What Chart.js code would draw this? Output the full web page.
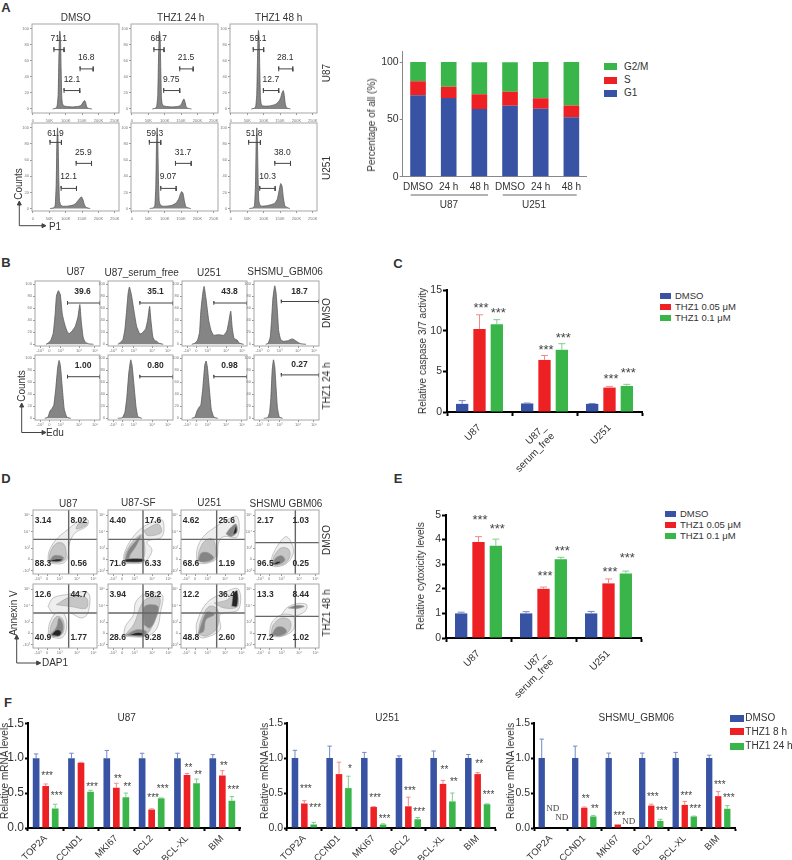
<!DOCTYPE html>
<html>
<head>
<meta charset="utf-8">
<title>THZ1 figure</title>
<script src="https://cdn.jsdelivr.net/npm/chart.js@4"></script>
<style>
    body { margin: 0; background: #fff; }
    #page { position: relative; width: 792px; height: 860px; overflow: hidden; font-family: "Liberation Sans", Arial, sans-serif; color: #333; }
    #page canvas { position: absolute; }
    #page svg { position: absolute; left: 0; top: 0; }
    .t { position: absolute; white-space: nowrap; line-height: 1; }
    .sw { position: absolute; }
</style>
</head>
<body>
<div id="page">
    <svg width="792" height="860" fill="none" stroke="#444" stroke-width="1">
        <!-- axis arrows next to the flow panels -->
        <path d="M19.3 205V225.7H43"/><path d="M19.3 201l-2 4h4zM46 225.7l-4 -2v4z" fill="#444"/>
        <path d="M21.7 407V432.5H43"/><path d="M21.7 403l-2 4h4zM46 432.5l-4 -2v4z" fill="#444"/>
        <path d="M16.7 639V663H37"/><path d="M16.7 635l-2 4h4zM40.7 663l-4 -2v4z" fill="#444"/>
        <!-- group lines under the stacked bars -->
        <path d="M410.7 195H488M502.7 195H576.7" stroke="#666"/>
    </svg>
</div>
<script>
const BLUE = '#3953a4', RED = '#ed2024', GREEN = '#39b54a';
const BLUE_ERR = '#7488c6', RED_ERR = '#f28a8a', GREEN_ERR = '#7fcf8d';

// ---- panel A, stacked bars
const cycleLabels = ['DMSO', '24 h', '48 h', 'DMSO', '24 h', '48 h'];
const cycleG1 = [71.1, 68.7, 59.1, 61.9, 59.3, 51.8];
const cycleS = [12.1, 9.75, 12.7, 12.1, 9.07, 10.3];
const cycleG2M = [16.8, 21.5, 28.1, 25.9, 31.7, 38.0];
const cycleTicks = [0, 50, 100];

// ---- panel A, histograms: x (K), y (%)
const histAU87 = [
    [60,0,70,1,74,4,77,18,79,60,81,90,82,97,84,90,86,50,88,14,90,7,94,4,105,3,120,2.5,135,3,145,4,150,6,154,9,158,10.5,161,8,164,3,168,1,180,0],
    [62,0,72,1,76,4,79,18,81,60,83,90,84,97,86,90,88,50,90,14,92,7,96,4,107,3,122,2.5,137,3,147,4,152,7,156,11,159,12.5,162,9,165,3.5,170,1,182,0],
    [62,0,72,1,76,4,79,20,81,60,83,92,84,98,86,90,88,50,90,14,92,7,96,4,107,3.5,122,4,137,6,147,10,152,14,156,20,160,23,163,17,166,6,170,1.5,182,0],
];
const histAU251 = [
    [52,0,64,1,68,4,71,30,73,80,75,100,77,80,79,35,81,10,84,5,90,3,105,3,120,4,130,6,138,10,144,13,148,14.5,152,12,157,5,162,1.5,175,0],
    [54,0,66,1,70,4,73,30,75,80,77,100,79,80,81,35,83,10,86,5,92,3,107,3,122,4,135,7,143,12,148,18,152,21,156,19,160,10,165,2,180,0],
    [56,0,68,1,72,4,75,30,77,80,79,100,81,80,83,35,85,10,88,5,94,3,109,3.5,124,5,135,7,142,12,147,22,152,31,156,28,160,14,165,3,180,0],
];
// gates: x0, x1, y
const gatesAU87 = [
    [[64,95,74],[95,143,23],[144,184,50]],
    [[67,98,74],[97,146,23],[146,187,50]],
    [[68,100,74],[99,146,23],[146,189,50]],
];
const gatesAU251 = [
    [[52,87,82],[86,133,25],[132,179,56]],
    [[53,88,82],[88,135,25],[133,181,56]],
    [[54,90,82],[88,135,25],[134,182,56]],
];
const notesAU87 = [
    [[79,87.5,'71.1'],[163,64,'16.8'],[119,36.5,'12.1']],
    [[82,87.5,'68.7'],[165,63.5,'21.5'],[120,37,'9.75']],
    [[83,87.5,'59.1'],[166,63.5,'28.1'],[122,36.5,'12.7']],
];
const notesAU251 = [
    [[69,93,'61.9'],[154,69.5,'25.9'],[109,39,'12.1']],
    [[70,93,'59.3'],[156,69.5,'31.7'],[110,39,'9.07']],
    [[71,93,'51.8'],[157,69.5,'38.0'],[112,39,'10.3']],
];
const flowAXTicks = [0, 50, 100, 150, 200, 250];
const flowAXLabels = ['0', '50K', '100K', '150K', '200K', '250K'];
const flowYTicks = [0, 20, 40, 60, 80, 100];

// ---- panel B, histograms: x (axis position), y (%)
const histBDmso = [
    [17,0,20,2,24,6,28,18,31,50,33,80,36,89,39,82,42,50,46,32,50,20,53,18,57,22,62,30,66,45,69,66,71,40,74,12,77,4,82,1,90,0],
    [15,0,19,3,23,8,26,25,29,60,31,85,33,95,36,82,40,55,44,30,49,17,53,19,58,26,61,40,64,63,66,40,69,12,72,6,75,5,78,2,85,0],
    [15,0,20,2,24,7,27,20,29,55,32,85,34,96,37,75,41,40,45,22,49,15,56,16,64,15,69,22,72,38,75,55,77,30,80,10,85,7,88,2,95,0],
    [18,0,22,2,25,12,27,40,29,75,31,92,32,97,34,85,36,55,38,22,41,8,45,5,52,6,59,9,64,6,68,3,72,1,80,0],
];
const histBThz = [
    [15,0,20,2,23,12,26,16,29,22,32,50,35,85,37,96,39,88,42,50,45,15,49,2,55,0],
    [15,0,22,1,26,10,29,35,32,75,35,97,37,88,40,55,43,20,46,3,52,0],
    [15,0,20,2,23,12,26,18,29,22,32,50,35,88,37,95,39,85,42,50,45,15,49,2,55,0],
    [15,0,21,1,24,10,26,35,28,80,30,97,32,85,34,50,36,18,39,2,44,0],
];
const gatesBDmso = [[50,100,68.5],[49,100,68.5],[49,100,68.5],[42,100,71]];
const gatesBThz = [[50,100,69],[49,100,69],[49,100,69],[42,100,72]];
const notesBDmso = [[73,87,'39.6'],[73,87,'35.1'],[73,87,'43.8'],[70,87,'18.7']];
const notesBThz = [[74,87,'1.00'],[73,87,'0.80'],[73,87,'0.98'],[70,89,'0.27']];
const logXTicks = [7.7, 22, 39.5, 68, 92.3];
const logXLabels = ['-10³', '0', '10³', '10⁴', '10⁵'];

// ---- panel D, contours: level, then x, y pairs (0 to 192 across the panel)
const contourShades = ['#eeeeee', '#c6c6c6', '#858585', '#262626'];
const contoursDmso = [
    [[0,[45,32,48,67,70,104,105,134,140,160,165,162,162,144,125,122,108,87,105,52,90,32]],
     [1,[48,37,52,65,70,92,92,90,100,60,95,42,75,35]],
     [1,[135,150,162,155,160,146,130,135]],
     [2,[50,40,62,55,82,55,92,48,85,38,60,36]],
     [3,[52,42,70,45,88,44,80,38,58,38]]],
    [[0,[47,32,49,62,72,107,107,142,147,160,165,160,162,112,117,97,132,72,117,42,97,32]],
     [1,[50,36,52,60,72,95,100,118,108,100,110,60,100,38]],
     [1,[107,130,150,150,160,125,120,115]],
     [2,[52,45,60,70,80,95,98,115,85,85,68,60,60,42]],
     [3,[52,36,52,44,100,46,110,42,100,36]]],
    [[0,[47,32,49,77,67,112,97,137,137,162,169,172,169,112,127,112,112,92,107,47,77,32]],
     [1,[50,40,55,70,72,100,95,105,105,70,100,45,75,35]],
     [2,[52,42,60,62,78,65,98,50,88,40,60,36]],
     [2,[135,120,145,135,165,150,168,125,150,112]],
     [3,[155,118,165,145,167,125,150,116]]],
    [[0,[45,27,55,62,80,102,95,112,110,92,115,62,95,32,65,22]],
     [1,[50,30,58,55,78,78,100,75,105,55,90,32,65,26]],
     [2,[52,30,62,48,80,55,90,42,75,30,60,27]],
     [3,[54,30,68,38,78,36,65,29]]],
];
const contoursThz = [
    [[0,[45,125,60,150,100,160,165,165,165,105,145,90,110,105,65,100]],
     [1,[70,130,110,152,160,150,160,120,110,125]],
     [0,[45,35,50,75,70,105,95,100,100,55,85,30]],
     [1,[50,40,55,70,72,95,90,85,92,50,78,35]],
     [2,[52,40,70,62,78,90,90,70,85,42,62,34]],
     [3,[55,40,72,55,85,48,78,36]]],
    [[0,[47,35,52,65,77,100,82,135,107,160,162,160,157,105,147,60,117,35]],
     [1,[52,40,78,72,100,130,120,150,155,150,150,110,130,60,110,38]],
     [2,[108,70,110,125,150,125,140,80,125,60]],
     [2,[52,38,85,55,115,50,110,36]],
     [3,[60,38,90,47,108,42,100,37]]],
    [[0,[47,40,47,75,77,135,127,165,172,177,172,115,117,100,117,55,67,30]],
     [1,[52,42,60,85,85,125,110,115,108,60,75,36]],
     [2,[52,42,62,75,78,108,100,100,75,85,68,50]],
     [1,[100,135,140,145,165,170,170,125,130,120]],
     [3,[152,125,158,165,169,172,168,125]]],
    [[0,[80,100,95,120,125,133,155,130,150,110,115,95]],
     [0,[43,35,50,75,80,100,115,95,115,55,80,35]],
     [1,[48,40,55,70,80,90,105,82,105,55,80,36]],
     [2,[50,40,65,62,85,62,95,48,72,36]],
     [2,[100,120,125,128,148,125,125,118]]],
];
// quadrant lines: x, y
const quadDmso = [[107,104],[105,104],[107,104],[121,94]];
const quadThz = [[107,105],[105,105],[107,105],[121,95]];
const notesDDmso = [
    [[30,160,'3.14'],[137,160,'8.02'],[30,30,'88.3'],[137,30,'0.56']],
    [[29,160,'4.40'],[135,160,'17.6'],[29,30,'71.6'],[135,30,'6.33']],
    [[30,160,'4.62'],[137,160,'25.6'],[30,30,'68.6'],[137,30,'1.19']],
    [[31,160,'2.17'],[137,160,'1.03'],[31,30,'96.5'],[137,30,'0.25']],
];
const notesDThz = [
    [[30,160,'12.6'],[137,160,'44.7'],[30,32,'40.9'],[137,32,'1.77']],
    [[29,160,'3.94'],[135,160,'58.2'],[29,32,'28.6'],[135,32,'9.28']],
    [[30,160,'12.2'],[137,160,'36.4'],[30,32,'48.8'],[137,32,'2.60']],
    [[31,160,'13.3'],[137,160,'8.44'],[31,32,'77.2'],[137,32,'1.02']],
];
const contourXTicks = [15, 42, 80, 132, 182];
const contourYTicks = [10, 44, 77, 127, 177];

// ---- panel C
const cellLines = [['U87'], ['U87_', 'serum_free'], ['U251']];
const caspaseDmso = [1.0, 1.05, 1.0];
const caspaseDmsoErr = [1.4, 1.1, 1.05];
const caspaseLow = [10.2, 6.4, 3.0];
const caspaseLowErr = [11.95, 6.95, 3.15];
const caspaseHigh = [10.8, 7.65, 3.2];
const caspaseHighErr = [11.35, 8.4, 3.4];
const caspaseTicks = [0, 5, 10, 15];
const caspaseStars = [[1,0,13.08,'***'],[2,0,12.43,'***'],[1,1,7.95,'***'],[2,1,9.42,'***'],[1,2,4.36,'***'],[2,2,5.13,'***']];

// ---- panel E
const cytoDmso = [1.0, 1.0, 1.0];
const cytoDmsoErr = [1.05, 1.07, 1.08];
const cytoLow = [3.9, 2.0, 2.22];
const cytoLowErr = [4.12, 2.07, 2.4];
const cytoHigh = [3.75, 3.2, 2.62];
const cytoHighErr = [4.02, 3.28, 2.72];
const cytoTicks = [0, 1, 2, 3, 4, 5];
const cytoStars = [[1,0,4.9,'***'],[2,0,4.55,'***'],[1,1,2.63,'***'],[2,1,3.65,'***'],[1,2,2.8,'***'],[2,2,3.35,'***']];

// ---- panel F
const genes = ['TOP2A', 'CCND1', 'MKI67', 'BCL2', 'BCL-XL', 'BIM'];
const mrnaTicks = [0, 0.5, 1, 1.5];
const mrnaDmso = [1, 1, 1, 1, 1, 1];

const u87DmsoErr = [1.06, 1.07, 1.11, 1.07, 1.07, 1.05];
const u87Red = [0.6, 0.935, 0.575, 0.265, 0.76, 0.75];
const u87RedErr = [0.63, 0.94, 0.64, 0.275, 0.78, 0.82];
const u87Green = [0.28, 0.52, 0.44, 0.425, 0.64, 0.39];
const u87GreenErr = [0.34, 0.54, 0.5, 0.43, 0.7, 0.45];
const u87Stars = [[1,0,0.77,'***'],[2,0,0.485,'***'],[2,1,0.62,'***'],[1,2,0.73,'**'],[2,2,0.61,'**'],[1,3,0.46,'***'],[2,3,0.59,'***'],[1,4,0.885,'**'],[2,4,0.785,'**'],[1,5,0.915,'**'],[2,5,0.57,'***']];

const u251DmsoErr = [1.11, 1.17, 1.08, 1.03, 1.1, 1.05];
const u251Red = [0.35, 0.77, 0.3, 0.31, 0.63, 0.77];
const u251RedErr = [0.39, 0.94, 0.305, 0.44, 0.68, 0.79];
const u251Green = [0.05, 0.57, 0.05, 0.125, 0.38, 0.34];
const u251GreenErr = [0.08, 0.74, 0.06, 0.15, 0.5, 0.345];
const u251Stars = [[1,0,0.59,'***'],[2,0,0.31,'***'],[2,1,0.865,'*'],[1,2,0.455,'***'],[2,2,0.16,'***'],[1,3,0.56,'***'],[2,3,0.255,'***'],[1,4,0.85,'**'],[2,4,0.68,'**'],[1,5,0.94,'**'],[2,5,0.495,'***']];

const gbmDmsoErr = [1.27, 1.17, 1.07, 1.07, 1.08, 1.04];
const gbmRed = [null, 0.29, 0.05, 0.32, 0.33, 0.455];
const gbmRedErr = [null, 0.3, null, 0.34, 0.38, 0.52];
const gbmGreen = [null, 0.165, null, 0.1, 0.165, 0.275];
const gbmGreenErr = [null, 0.18, null, 0.125, 0.17, 0.32];
const gbmStars = [[1,1,0.44,'**'],[2,1,0.295,'**'],[1,2,0.205,'***'],[1,3,0.465,'***'],[2,3,0.265,'***'],[1,4,0.49,'***'],[2,4,0.3,'***'],[1,5,0.64,'***'],[2,5,0.46,'***']];
const gbmNd = [[1,0,0.275],[2,0,0.15],[2,2,0.095]];

const page = document.getElementById('page');

function addCanvas(left, top, w, h) {
    const c = document.createElement('canvas');
    c.width = w;
    c.height = h;
    c.style.left = left + 'px';
    c.style.top = top + 'px';
    page.appendChild(c);
    return c;
}

function txt(x, y, text, o = {}) {
    const d = document.createElement('div');
    d.className = 't';
    d.textContent = text;
    d.style.left = x + 'px';
    d.style.top = y + 'px';
    d.style.fontSize = (o.size || 10) + 'px';
    if (o.bold) d.style.fontWeight = 'bold';
    const tx = o.left ? '0' : '-50%';
    d.style.transform = `translate(${tx},-50%) rotate(${o.rot || 0}deg)`;
    page.appendChild(d);
}

function legend(xBox, wBox, hBox, xText, ys, names, colors, size) {
    names.forEach((name, i) => {
        const s = document.createElement('div');
        s.className = 'sw';
        s.style.cssText = `left:${xBox}px;top:${ys[i] - hBox / 2}px;width:${wBox}px;height:${hBox}px;background:${colors[i]}`;
        page.appendChild(s);
        txt(xText, ys[i], name, { left: true, size });
    });
}

function toXY(flat) {
    const pts = [];
    for (let i = 0; i < flat.length; i += 2) pts.push({ x: flat[i], y: flat[i + 1] });
    return pts;
}

// Force the plot area to the measured place
const fixWidth = (w) => (s) => { s.width = w; };
const fixHeight = (h) => (s) => { s.height = h; };
const setTicks = (values) => (s) => { s.ticks = values.map((v) => ({ value: v })); };

// Text items given in data units
function notesPlugin(items, font, color) {
    return {
        id: 'notes',
        afterDatasetsDraw(chart) {
            const { ctx, scales } = chart;
            ctx.save();
            ctx.font = font;
            ctx.fillStyle = color;
            ctx.textAlign = 'center';
            ctx.textBaseline = 'middle';
            items.forEach(([x, y, text]) => ctx.fillText(text, scales.x.getPixelForValue(x), scales.y.getPixelForValue(y)));
            ctx.restore();
        },
    };
}

const framePlugin = {
    id: 'frame',
    afterDraw(chart) {
        const a = chart.chartArea, ctx = chart.ctx;
        ctx.save();
        ctx.strokeStyle = '#a6a6a6';
        ctx.lineWidth = 1;
        ctx.strokeRect(a.left, a.top, a.width, a.height);
        ctx.restore();
    },
};

function flowPanel(box, axes, datasets, notes, noteFont) {
    const ML = 14, MT = 4, MR = 7, MB = 14;
    const canvas = addCanvas(box.x - ML, box.y - MT, box.w + ML + MR, box.h + MT + MB);
    const tickStyle = { color: '#777', font: { size: 4, family: 'Liberation Sans' }, autoSkip: false, minRotation: 0, maxRotation: 0 };
    new Chart(canvas, {
        type: 'scatter',
        data: { datasets },
        options: {
            responsive: false,
            animation: false,
            layout: { padding: { left: 0, top: MT, right: MR, bottom: 0 } },
            plugins: { legend: { display: false }, tooltip: { enabled: false } },
            scales: {
                x: {
                    type: 'linear', min: axes.xMin, max: axes.xMax,
                    afterFit: fixHeight(MB), afterBuildTicks: setTicks(axes.xTicks),
                    grid: { drawOnChartArea: false, tickLength: 2, tickColor: '#999' },
                    border: { display: false },
                    ticks: { ...tickStyle, padding: axes.xPad, callback: (v, i) => axes.xLabels[i] },
                },
                y: {
                    type: 'linear', min: axes.yMin, max: axes.yMax,
                    afterFit: fixWidth(ML), afterBuildTicks: setTicks(axes.yTicks),
                    grid: { drawOnChartArea: false, tickLength: 2, tickColor: '#999' },
                    border: { display: false },
                    ticks: { ...tickStyle, padding: 1, callback: (v, i) => axes.yLabels[i] },
                },
            },
        },
        plugins: [framePlugin, notesPlugin(notes, noteFont, '#2b2b2b')],
    });
}

function histSet(flat) {
    return {
        data: toXY(flat), showLine: true, pointRadius: 0, tension: 0.15, fill: 'origin',
        borderColor: '#5a5a5a', backgroundColor: '#858585', borderWidth: 0.8, order: 5,
    };
}

function gateSet(x0, x1, y, tip) {
    return {
        data: [{ x: x0, y: y - tip }, { x: x0, y: y + tip }, { x: x0, y }, { x: x1, y }, { x: x1, y: y + tip }, { x: x1, y: y - tip }],
        showLine: true, pointRadius: 0, borderColor: '#444', borderWidth: 1, fill: false, order: 1,
    };
}

function contourSets(polys) {
    return polys.map(([level, flat], i) => ({
        data: toXY(flat.concat(flat[0], flat[1])),
        showLine: true, pointRadius: 0, tension: 0.35, fill: 'shape',
        borderColor: '#a0a0a0', backgroundColor: contourShades[level], borderWidth: 0.6, order: 100 - i,
    }));
}

function quadSets(x, y) {
    const line = (data) => ({ data, showLine: true, pointRadius: 0, borderColor: '#666', borderWidth: 1.4, fill: false, order: 1 });
    return [line([{ x, y: 0 }, { x, y: 192 }]), line([{ x: 0, y }, { x: 192, y }])];
}

// error bars go up only, stars and ND sit on the bar's x
const errorPlugin = {
    id: 'errors',
    afterDatasetsDraw(chart) {
        const { ctx, scales } = chart;
        chart.data.datasets.forEach((ds, si) => {
            const meta = chart.getDatasetMeta(si);
            ctx.save();
            ctx.strokeStyle = ds.errColor;
            ctx.lineWidth = 1;
            ds.errTop.forEach((top, i) => {
                if (top === null || ds.data[i] === null) return;
                const x = meta.data[i].x;
                const y0 = scales.y.getPixelForValue(ds.data[i]);
                const y1 = scales.y.getPixelForValue(top);
                ctx.beginPath();
                ctx.moveTo(x, y0);
                ctx.lineTo(x, y1);
                ctx.moveTo(x - ds.capHalf, y1);
                ctx.lineTo(x + ds.capHalf, y1);
                ctx.stroke();
            });
            ctx.restore();
        });
    },
};

function markPlugin(stars, starSize, nds) {
    return {
        id: 'marks',
        afterDatasetsDraw(chart) {
            const { ctx, scales } = chart;
            ctx.save();
            ctx.textAlign = 'center';
            ctx.textBaseline = 'middle';
            ctx.fillStyle = '#444';
            ctx.font = starSize + 'px "Liberation Sans"';
            stars.forEach(([si, i, y, text]) => {
                const x = chart.getDatasetMeta(si).data[i].x + 1.5;
                ctx.fillText(text, x, scales.y.getPixelForValue(y) + starSize * 0.22);
            });
            ctx.font = '9px "Liberation Serif"';
            nds.forEach(([si, i, y]) => {
                const x = chart.getDatasetMeta(si).data[i].x + 2;
                ctx.fillText('ND', x, scales.y.getPixelForValue(y));
            });
            ctx.restore();
        },
    };
}

function barPanel(p) {
    const ML = 30, MT = 8, MR = 12;
    const canvas = addCanvas(p.x - ML, p.y - MT, p.w + ML + MR, p.h + MT + p.mb);
    new Chart(canvas, {
        type: 'bar',
        data: {
            labels: p.cats,
            datasets: p.series.map((s, i) => ({
                data: s, errTop: p.errs[i], errColor: [BLUE_ERR, RED_ERR, GREEN_ERR][i], capHalf: p.capHalf,
                backgroundColor: [BLUE, RED, GREEN][i],
                categoryPercentage: p.catPct, barPercentage: p.barPct,
            })),
        },
        options: {
            responsive: false,
            animation: false,
            layout: { padding: { left: 0, top: MT, right: MR, bottom: 0 } },
            plugins: { legend: { display: false }, tooltip: { enabled: false } },
            scales: {
                x: {
                    afterFit: fixHeight(p.mb),
                    grid: { drawOnChartArea: false, tickLength: p.tick, tickWidth: 2, tickColor: '#000' },
                    border: { color: '#000', width: 2 },
                    ticks: { color: '#333', font: { size: p.catSize, family: 'Liberation Sans' }, minRotation: 45, maxRotation: 45, autoSkip: false, padding: p.catPad },
                },
                y: {
                    min: 0, max: p.yMax,
                    afterFit: fixWidth(ML), afterBuildTicks: setTicks(p.yTicks),
                    grid: { drawOnChartArea: false, tickLength: p.tick, tickWidth: 2, tickColor: '#000' },
                    border: { color: '#000', width: 2 },
                    ticks: { color: '#333', font: { size: p.ySize, family: 'Liberation Sans' }, padding: 1, callback: p.yFormat },
                },
            },
        },
        plugins: [errorPlugin, markPlugin(p.stars, p.starSize, p.nd || [])],
    });
}

// ---------- panel letters
[[6, 7, 'A'], [6, 262, 'B'], [398, 263, 'C'], [6, 478, 'D'], [398, 478, 'E'], [8, 702, 'F']].forEach(([x, y, s]) => txt(x, y, s, { size: 13, bold: true }));

// ---------- A flow
const axA = { xMin: -3, xMax: 263, xTicks: flowAXTicks, xLabels: flowAXLabels, xPad: 3, yMax: 106, yTicks: flowYTicks, yLabels: flowYTicks.map(String) };
[32.3, 131, 230].forEach((x, i) => {
    flowPanel({ x, y: 24, w: 87, h: 89 }, { ...axA, yMin: -5 },
        [...gatesAU87[i].map((g) => gateSet(g[0], g[1], g[2], 3)), histSet(histAU87[i])], notesAU87[i], '8.5px "Liberation Sans"');
    flowPanel({ x, y: 123.3, w: 87, h: 88.4 }, { ...axA, yMin: -3 },
        [...gatesAU251[i].map((g) => gateSet(g[0], g[1], g[2], 3)), histSet(histAU251[i])], notesAU251[i], '8.5px "Liberation Sans"');
});
txt(75.7, 17.7, 'DMSO');
txt(180.7, 17.7, 'THZ1 24 h');
txt(278.7, 17.7, 'THZ1 48 h');
txt(326.7, 73, 'U87', { rot: -90 });
txt(326.7, 168, 'U251', { rot: -90 });
txt(19, 184, 'Counts', { rot: -90 });
txt(55, 226.7, 'P1');

// ---------- A stacked bars
(function () {
    const canvas = addCanvas(372, 44, 226, 170);
    new Chart(canvas, {
        type: 'bar',
        data: {
            labels: cycleLabels,
            datasets: [cycleG1, cycleS, cycleG2M].map((d, i) => ({
                data: d, backgroundColor: [BLUE, RED, GREEN][i], categoryPercentage: 1, barPercentage: 0.51,
            })),
        },
        options: {
            responsive: false,
            animation: false,
            layout: { padding: { left: 0, top: 7.7, right: 11.3, bottom: 0 } },
            plugins: { legend: { display: false }, tooltip: { enabled: false } },
            scales: {
                x: {
                    stacked: true,
                    afterFit: fixHeight(37.3),
                    grid: { drawOnChartArea: false, drawTicks: false },
                    border: { color: '#888', width: 1 },
                    ticks: { color: '#333', font: { size: 10, family: 'Liberation Sans' }, autoSkip: false, maxRotation: 0, minRotation: 0, padding: 5 },
                },
                y: {
                    stacked: true, min: 0, max: 109,
                    afterFit: fixWidth(30.7), afterBuildTicks: setTicks(cycleTicks),
                    grid: { drawOnChartArea: false, tickLength: 3, tickColor: '#888' },
                    border: { color: '#888', width: 1 },
                    ticks: { color: '#333', font: { size: 10.5, family: 'Liberation Sans' }, padding: 1 },
                },
            },
        },
    });
})();
txt(372, 125, 'Percentage of all (%)', { rot: -90 });
txt(449, 205, 'U87');
txt(534, 205, 'U251');
legend(604, 13.3, 7, 624, [66.7, 80, 93.3], ['G2/M', 'S', 'G1'], [GREEN, RED, BLUE], 10);

// ---------- B
const axB = { xMin: 0, xMax: 100, xTicks: logXTicks, xLabels: logXLabels, xPad: 0, yMin: -2.8, yMax: 105, yTicks: flowYTicks, yLabels: flowYTicks.map(String) };
[35, 108, 181.7, 254.3].forEach((x, i) => {
    flowPanel({ x, y: 280.7, w: 65, h: 65 }, axB,
        [gateSet(gatesBDmso[i][0], gatesBDmso[i][1], gatesBDmso[i][2], 3), histSet(histBDmso[i])], [notesBDmso[i]], 'bold 8.5px "Liberation Sans"');
    flowPanel({ x, y: 355, w: 65, h: 65 }, axB,
        [gateSet(gatesBThz[i][0], gatesBThz[i][1], gatesBThz[i][2], 3), histSet(histBThz[i])], [notesBThz[i]], 'bold 8.5px "Liberation Sans"');
});
txt(75.7, 271.7, 'U87');
txt(141.7, 273, 'U87_serum_free');
txt(209, 273, 'U251');
txt(285, 272, 'SHSMU_GBM06');
txt(326.7, 312.7, 'DMSO', { rot: -90 });
txt(326.7, 386, 'THZ1 24 h', { rot: -90 });
txt(21.7, 386, 'Counts', { rot: -90 });
txt(55, 433, 'Edu');

// ---------- C
barPanel({
    x: 446.7, y: 290, w: 195, h: 122.7, mb: 60, cats: cellLines,
    series: [caspaseDmso, caspaseLow, caspaseHigh], errs: [caspaseDmsoErr, caspaseLowErr, caspaseHighErr],
    catPct: 0.8, barPct: 0.71, capHalf: 3.5, yMax: 15, yTicks: caspaseTicks, ySize: 10.5, catSize: 10, catPad: 6, tick: 4,
    yFormat: (v) => String(v), stars: caspaseStars, starSize: 13,
});
txt(422.7, 351, 'Relative caspase 3/7 activity', { rot: -90 });
legend(660, 10.7, 6, 675, [295.7, 306.7, 318], ['DMSO', 'THZ1 0.05 μM', 'THZ1 0.1 μM'], [BLUE, RED, GREEN], 9.5);

// ---------- D
const axD = { xMin: 0, xMax: 192, xTicks: contourXTicks, xLabels: logXLabels, xPad: 0, yMin: 0, yMax: 192, yTicks: contourYTicks, yLabels: logXLabels };
[33.3, 107.7, 181, 255].forEach((x, i) => {
    flowPanel({ x, y: 510, w: 64.5, h: 64 }, axD,
        [...quadSets(quadDmso[i][0], quadDmso[i][1]), ...contourSets(contoursDmso[i])], notesDDmso[i], 'bold 8.5px "Liberation Sans"');
    flowPanel({ x, y: 584, w: 64.5, h: 64 }, axD,
        [...quadSets(quadThz[i][0], quadThz[i][1]), ...contourSets(contoursThz[i])], notesDThz[i], 'bold 8.5px "Liberation Sans"');
});
txt(68.3, 504.3, 'U87');
txt(138.3, 502.7, 'U87-SF');
txt(209.3, 502.7, 'U251');
txt(286, 503.7, 'SHSMU GBM06');
txt(327.3, 540, 'DMSO', { rot: -90 });
txt(327.3, 613, 'THZ1 48 h', { rot: -90 });
txt(14, 613.3, 'Annexin V', { rot: -90 });
txt(55, 663, 'DAP1');

// ---------- E
barPanel({
    x: 446, y: 515, w: 195.7, h: 123, mb: 62, cats: cellLines,
    series: [cytoDmso, cytoLow, cytoHigh], errs: [cytoDmsoErr, cytoLowErr, cytoHighErr],
    catPct: 0.8, barPct: 0.71, capHalf: 3.5, yMax: 5, yTicks: cytoTicks, ySize: 10.5, catSize: 10, catPad: 6, tick: 4,
    yFormat: (v) => String(v), stars: cytoStars, starSize: 13,
});
txt(420.7, 576, 'Relative cytoxicity levels', { rot: -90 });
legend(665.3, 10.7, 6, 680, [513.7, 524.7, 535.7], ['DMSO', 'THZ1 0.05 μM', 'THZ1 0.1 μM'], [BLUE, RED, GREEN], 9.5);

// ---------- F
const mrnaBase = {
    y: 722.7, h: 105, mb: 32, cats: genes, catPct: 0.81, barPct: 0.7, capHalf: 2.2, yMax: 1.5, yTicks: mrnaTicks,
    catSize: 9.5, catPad: 2, tick: 3, yFormat: (v) => v.toFixed(1), starSize: 10,
};
barPanel({
    ...mrnaBase, x: 28.3, w: 212, ySize: 12,
    series: [mrnaDmso, u87Red, u87Green], errs: [u87DmsoErr, u87RedErr, u87GreenErr], stars: u87Stars,
});
barPanel({
    ...mrnaBase, x: 286.7, w: 208.5, ySize: 10.5,
    series: [mrnaDmso, u251Red, u251Green], errs: [u251DmsoErr, u251RedErr, u251GreenErr], stars: u251Stars,
});
barPanel({
    ...mrnaBase, x: 534.3, w: 201, ySize: 10.5,
    series: [mrnaDmso, gbmRed, gbmGreen], errs: [gbmDmsoErr, gbmRedErr, gbmGreenErr], stars: gbmStars, nd: gbmNd,
});
txt(5, 771, 'Relative mRNA levels', { rot: -90 });
txt(265, 771, 'Relative mRNA levels', { rot: -90 });
txt(511.3, 771, 'Relative mRNA levels', { rot: -90 });
txt(126.7, 718, 'U87');
txt(387.3, 718, 'U251');
txt(636.3, 718, 'SHSMU_GBM06');
legend(729.7, 14, 7, 745.3, [718, 731.7, 746], ['DMSO', 'THZ1 8 h', 'THZ1 24 h'], [BLUE, RED, GREEN], 10);
</script>
</body>
</html>
